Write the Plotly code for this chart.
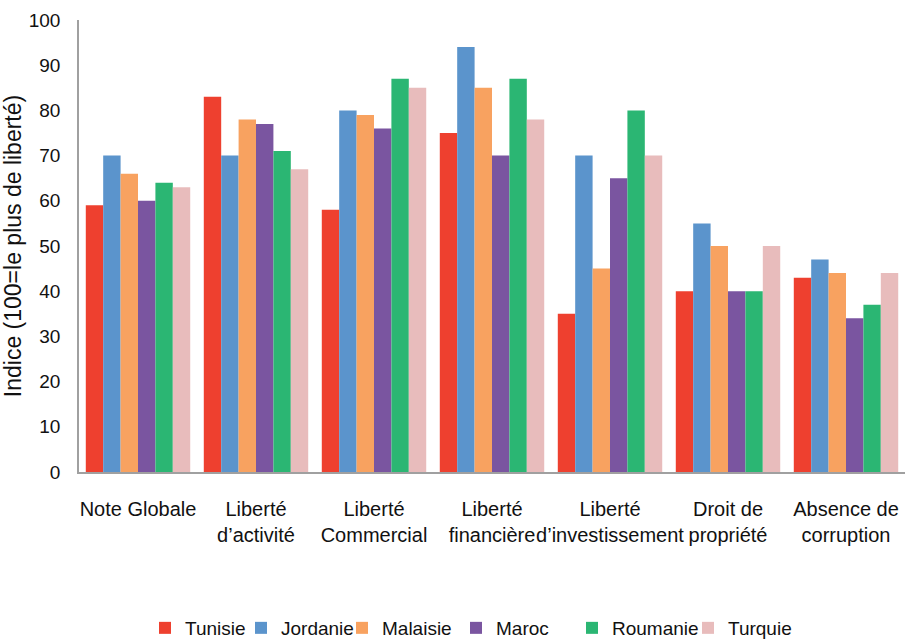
import plotly.graph_objects as go

categories = [
    "Note Globale",
    "Liberté<br>d’activité",
    "Liberté<br>Commercial",
    "Liberté<br>financière",
    "Liberté<br>d’investissement",
    "Droit de<br>propriété",
    "Absence de<br>corruption",
]

tunisie = [59, 83, 58, 75, 35, 40, 43]
jordanie = [70, 70, 80, 94, 70, 55, 47]
malaisie = [66, 78, 79, 85, 45, 50, 44]
maroc = [60, 77, 76, 70, 65, 40, 34]
roumanie = [64, 71, 87, 87, 80, 40, 37]
turquie = [63, 67, 85, 78, 70, 50, 44]

y_ticks = [0, 10, 20, 30, 40, 50, 60, 70, 80, 90, 100]

series = [
    ("Tunisie", tunisie, "#EE402F"),
    ("Jordanie", jordanie, "#5B94CC"),
    ("Malaisie", malaisie, "#F8A260"),
    ("Maroc", maroc, "#7A55A0"),
    ("Roumanie", roumanie, "#2BB673"),
    ("Turquie", turquie, "#E8BCBC"),
]

font_family = "Liberation Sans, Arial, Helvetica, sans-serif"

W, H = 907, 641
M_L, M_R, M_T, M_B = 79, 2, 20, 169
plot_w = W - M_L - M_R
plot_h = H - M_T - M_B

# left edges (px) of each legend entry along the bottom row
legend_left_px = [145, 241, 342, 456, 572, 688]
legend_y = -(628 - (H - M_B)) / plot_h

fig = go.Figure()
legend_layout = {}
for i, (name, vals, color) in enumerate(series):
    key = "legend" if i == 0 else f"legend{i + 1}"
    fig.add_trace(go.Bar(
        name=name, x=categories, y=vals, legend=key,
        marker=dict(color=color, line=dict(width=0)),
    ))
    legend_layout[key] = dict(
        orientation="h", x=(legend_left_px[i] - M_L) / plot_w, xanchor="left",
        y=legend_y, yanchor="middle", font=dict(size=19), itemwidth=30,
        bgcolor="rgba(0,0,0,0)",
    )

fig.update_layout(
    width=W, height=H,
    margin=dict(l=M_L, r=M_R, t=M_T, b=M_B, autoexpand=False),
    barmode="group", bargap=0.115, bargroupgap=0,
    plot_bgcolor="white", paper_bgcolor="white",
    font=dict(family=font_family, color="#111111", size=18),
    showlegend=True,
    xaxis=dict(
        showline=True, linecolor="#A0A0A0", linewidth=1.5,
        ticks="", showgrid=False, tickfont=dict(size=20),
        tickangle=0, ticklabelstandoff=18,
    ),
    yaxis=dict(
        range=[0, 100], tickvals=y_ticks,
        showline=True, linecolor="#A0A0A0", linewidth=1.5,
        ticks="", showgrid=False, zeroline=False,
        tickfont=dict(size=19), ticklabelstandoff=13,
        title=dict(text="Indice (100=le plus de liberté)", font=dict(size=23), standoff=6),
    ),
    **legend_layout,
)

fig.write_html("out.html")
